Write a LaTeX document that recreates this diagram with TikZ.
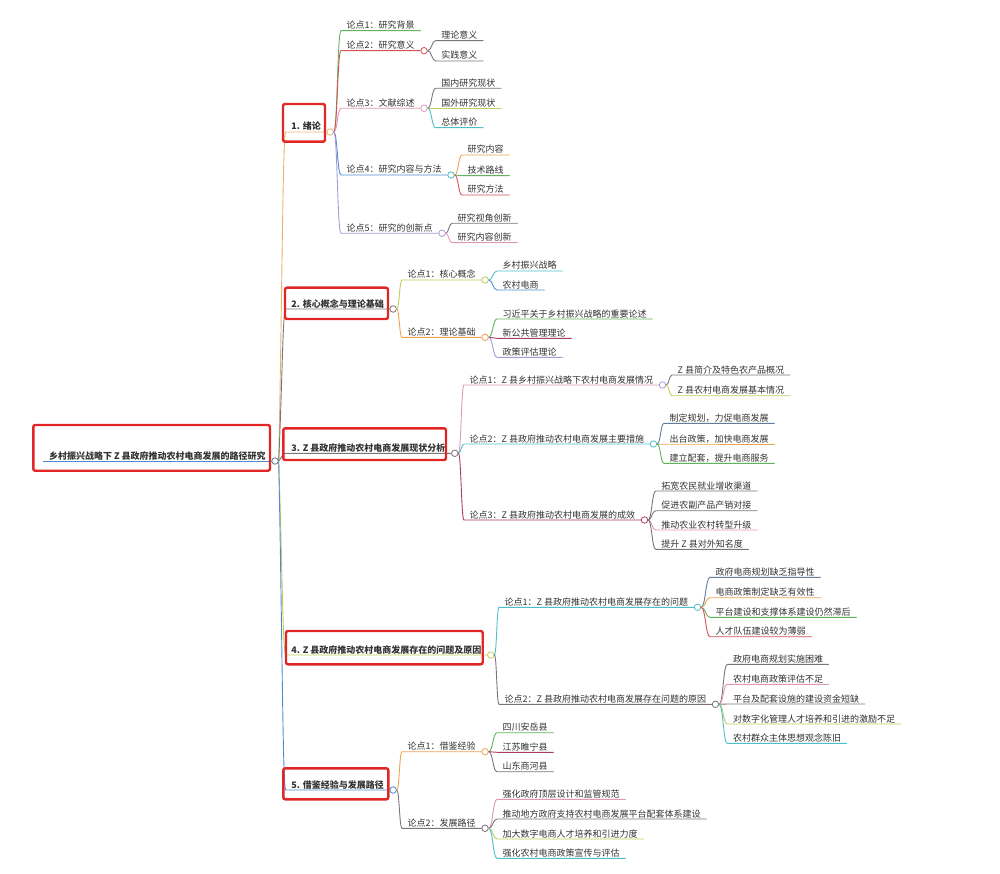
\documentclass[tikz,border=0pt]{standalone}
\usepackage{fontspec}
\setmainfont{Noto Sans CJK SC}
\usetikzlibrary{calc}

\definecolor{ink}{RGB}{50,50,50}
\definecolor{boxred}{RGB}{226,38,38}
\definecolor{cTan}{RGB}{232,180,110}
\definecolor{cOrange}{RGB}{236,163,80}
\definecolor{cGreen}{RGB}{95,180,90}
\definecolor{cRed}{RGB}{215,80,90}
\definecolor{cPink}{RGB}{225,150,185}
\definecolor{cBlue}{RGB}{80,140,210}
\definecolor{cPurple}{RGB}{165,155,215}
\definecolor{cGrey}{RGB}{125,115,125}
\definecolor{cOlive}{RGB}{195,205,85}
\definecolor{cTeal}{RGB}{80,190,200}
\definecolor{cMaroon}{RGB}{170,60,95}
\definecolor{cSlate}{RGB}{100,125,150}

\begin{document}
\begin{tikzpicture}[
    x=1pt, y=-1pt,
    font=\fontsize{9}{11}\selectfont,
    text=ink,
    topic/.style={anchor=south west, inner xsep=5.5pt, inner ysep=0.8pt,
                  text height=8pt, text depth=1pt},
    main/.style={topic, font=\fontsize{9}{11}\selectfont\bfseries},
    dot/.style={circle, draw, fill=white, line width=0.8pt,
                minimum size=6.5pt, inner sep=0pt, anchor=west},
    line/.style={line width=0.9pt, line cap=round},
    branch/.style={line, to path={let \p1=(\tikztostart), \p2=(\tikztotarget) in
        .. controls ({(\x1+\x2)/2},\y1) and ({(\x1+\x2)/2},\y2) .. (\p2)}},
    trunk/.style={line, to path={let \p1=(\tikztostart), \p2=(\tikztotarget) in
        .. controls ({(\x1+\x2)/2},{(\y1+\y2)/2}) and ({\x2-3pt},\y2) .. (\p2)}},
    hl/.style={draw=boxred, line width=2.4pt, rounded corners=2pt}
]
\useasboundingbox (0,0) rectangle (1000,874);

% ---- root ----
\node[main] (root) at (43.3,461)
  {乡村振兴战略下 Z 县政府推动农村电商发展的路径研究};
\draw[line, cBlue] (root.south west) -- (root.south east);
\node[dot, draw=cSlate] (d0) at (root.south east) {};

% ---- chapters ----
\foreach \id/\y/\c/\t in {m1/132/cTan/1. 绪论,
                         m2/309/cGrey/2. 核心概念与理论基础,
                         m3/453.3/cGrey/3. Z 县政府推动农村电商发展现状分析,
                         m4/655/cOlive/4. Z 县政府推动农村电商发展存在的问题及原因,
                         m5/790/cBlue/5. 借鉴经验与发展路径} {
  \node[main] (\id) at (285.7,\y) {\t};
  \draw[trunk, draw=\c] (d0.east) to (\id.south west) -- (\id.south east);
}
\node[dot, draw=cTan] (dm1) at (m1.south east) {};
\node[dot, draw=cGrey] (dm2) at (m2.south east) {};
\node[dot, draw=cGrey] (dm3) at (m3.south east) {};
\node[dot, draw=cOlive] (dm4) at (m4.south east) {};
\node[dot, draw=cBlue] (dm5) at (m5.south east) {};

% red frames
\draw[hl] (33.3,425) rectangle (270,470.7);
\draw[hl] (283,104) rectangle (325,141.7);
\draw[hl] (285,287.7) rectangle (388,319);
\draw[hl] (283.3,428.3) rectangle (446,460);
\draw[hl] (286,631) rectangle (482.7,664.3);
\draw[hl] (283.3,768.3) rectangle (388.3,799.3);

% ---- 1. 绪论 ----
\foreach \id/\y/\c/\t in {a1/30.7/cGreen/论点1：研究背景,
                         a2/50.7/cRed/论点2：研究意义,
                         a3/108.3/cPink/论点3：文献综述,
                         a4/175/cBlue/论点4：研究内容与方法,
                         a5/233.3/cPurple/论点5：研究的创新点} {
  \node[topic] (\id) at (341,\y) {\t};
  \draw[branch, draw=\c] (dm1.east) to (\id.south west) -- (\id.south east);
}
\node[dot, draw=cRed] (da2) at (a2.south east) {};
\node[dot, draw=cPink] (da3) at (a3.south east) {};
\node[dot, draw=cTeal] (da4) at (a4.south east) {};
\node[dot, draw=cPurple] (da5) at (a5.south east) {};

\foreach \id/\y/\c/\t in {b21/40.7/cGrey/理论意义, b22/61/cGrey/实践意义} {
  \node[topic] (\id) at (435.7,\y) {\t};
  \draw[branch, draw=\c] (da2.east) to (\id.south west) -- (\id.south east);
}
\foreach \id/\y/\c/\t in {b31/88.3/cGrey/国内研究现状, b32/108.3/cOlive/国外研究现状,
                         b33/127.7/cTeal/总体评价} {
  \node[topic] (\id) at (435.7,\y) {\t};
  \draw[branch, draw=\c] (da3.east) to (\id.south west) -- (\id.south east);
}
\foreach \id/\y/\c/\t in {b41/155/cOrange/研究内容, b42/175.7/cGreen/技术路线,
                         b43/195/cRed/研究方法} {
  \node[topic] (\id) at (462,\y) {\t};
  \draw[branch, draw=\c] (da4.east) to (\id.south west) -- (\id.south east);
}
\foreach \id/\y/\c/\t in {b51/223.3/cGrey/研究视角创新, b52/242.7/cPink/研究内容创新} {
  \node[topic] (\id) at (452,\y) {\t};
  \draw[branch, draw=\c] (da5.east) to (\id.south west) -- (\id.south east);
}

% ---- 2. 核心概念与理论基础 ----
\foreach \id/\y/\c/\t in {a6/280/cOlive/论点1：核心概念, a7/337.3/cOrange/论点2：理论基础} {
  \node[topic] (\id) at (402,\y) {\t};
  \draw[branch, draw=\c] (dm2.east) to (\id.south west) -- (\id.south east);
}
\node[dot, draw=cOlive] (da6) at (a6.south east) {};
\node[dot, draw=cOrange] (da7) at (a7.south east) {};

\foreach \id/\y/\c/\t in {b61/271/cTeal/乡村振兴战略, b62/290/cBlue/农村电商} {
  \node[topic] (\id) at (497,\y) {\t};
  \draw[branch, draw=\c] (da6.east) to (\id.south west) -- (\id.south east);
}
\foreach \id/\y/\c/\t in {b71/319/cGreen/习近平关于乡村振兴战略的重要论述,
                         b72/338.3/cMaroon/新公共管理理论,
                         b73/357.3/cPurple/政策评估理论} {
  \node[topic] (\id) at (497,\y) {\t};
  \draw[branch, draw=\c] (da7.east) to (\id.south west) -- (\id.south east);
}

% ---- 3. 现状分析 ----
\foreach \id/\y/\c/\t in {a8/385/cPink/论点1：Z 县乡村振兴战略下农村电商发展情况,
                         a9/444/cTeal/论点2：Z 县政府推动农村电商发展主要措施,
                         a10/520/cMaroon/论点3：Z 县政府推动农村电商发展的成效} {
  \node[topic] (\id) at (464,\y) {\t};
  \draw[branch, draw=\c] (dm3.east) to (\id.south west) -- (\id.south east);
}
\node[dot, draw=cPurple] (da8) at (a8.south east) {};
\node[dot, draw=cTeal] (da9) at (a9.south east) {};
\node[dot, draw=cMaroon] (da10) at (a10.south east) {};

\foreach \id/\y/\c/\t in {b81/375/cGrey/Z 县简介及特色农产品概况,
                         b82/395.7/cOlive/Z 县农村电商发展基本情况} {
  \node[topic] (\id) at (672,\y) {\t};
  \draw[branch, draw=\c] (da8.east) to (\id.south west) -- (\id.south east);
}
\foreach \id/\y/\c/\t in {b91/423.3/cSlate/制定规划，力促电商发展,
                         b92/444/cOrange/出台政策，加快电商发展,
                         b93/463.3/cGreen/建立配套，提升电商服务} {
  \node[topic] (\id) at (664,\y) {\t};
  \draw[branch, draw=\c] (da9.east) to (\id.south west) -- (\id.south east);
}
\foreach \id/\y/\c/\t in {b101/491/cGrey/拓宽农民就业增收渠道,
                         b102/510.7/cGrey/促进农副产品产销对接,
                         b103/530/cPink/推动农业农村转型升级,
                         b104/549.3/cGrey/提升 Z 县对外知名度} {
  \node[topic] (\id) at (655.7,\y) {\t};
  \draw[branch, draw=\c] (da10.east) to (\id.south west) -- (\id.south east);
}

% ---- 4. 问题及原因 ----
\foreach \id/\y/\c/\t in {a11/607.3/cTeal/论点1：Z 县政府推动农村电商发展存在的问题,
                         a12/704.3/cGrey/论点2：Z 县政府推动农村电商发展存在问题的原因} {
  \node[topic] (\id) at (499,\y) {\t};
  \draw[branch, draw=\c] (dm4.east) to (\id.south west) -- (\id.south east);
}
\node[dot, draw=cTeal] (da11) at (a11.south east) {};
\node[dot, draw=cGrey] (da12) at (a12.south east) {};

\foreach \id/\y/\c/\t in {b111/577.3/cSlate/政府电商规划缺乏指导性,
                         b112/597.7/cOrange/电商政策制定缺乏有效性,
                         b113/617.3/cGreen/平台建设和支撑体系建设仍然滞后,
                         b114/636.7/cRed/人才队伍建设较为薄弱} {
  \node[topic] (\id) at (710,\y) {\t};
  \draw[branch, draw=\c] (da11.east) to (\id.south west) -- (\id.south east);
}
\foreach \id/\y/\c/\t in {b121/664.3/cGrey/政府电商规划实施困难,
                         b122/684.3/cPink/农村电商政策评估不足,
                         b123/704/cGrey/平台及配套设施的建设资金短缺,
                         b124/724/cOlive/对数字化管理人才培养和引进的激励不足,
                         b125/743.3/cTeal/农村群众主体思想观念陈旧} {
  \node[topic] (\id) at (727.3,\y) {\t};
  \draw[branch, draw=\c] (da12.east) to (\id.south west) -- (\id.south east);
}

% ---- 5. 借鉴经验与发展路径 ----
\foreach \id/\y/\c/\t in {a13/751.7/cOrange/论点1：借鉴经验, a14/828.3/cGrey/论点2：发展路径} {
  \node[topic] (\id) at (402,\y) {\t};
  \draw[branch, draw=\c] (dm5.east) to (\id.south west) -- (\id.south east);
}
\node[dot, draw=cOrange] (da13) at (a13.south east) {};
\node[dot, draw=cGrey] (da14) at (a14.south east) {};

\foreach \id/\y/\c/\t in {b131/732.7/cGreen/四川安岳县, b132/752.3/cMaroon/江苏睢宁县,
                         b133/771.7/cGrey/山东商河县} {
  \node[topic] (\id) at (497,\y) {\t};
  \draw[branch, draw=\c] (da13.east) to (\id.south west) -- (\id.south east);
}
\foreach \id/\y/\c/\t in {b141/799.3/cPink/强化政府顶层设计和监管规范,
                         b142/819/cGrey/推动地方政府支持农村电商发展平台配套体系建设,
                         b143/839/cOlive/加大数字电商人才培养和引进力度,
                         b144/858.3/cTeal/强化农村电商政策宣传与评估} {
  \node[topic] (\id) at (497,\y) {\t};
  \draw[branch, draw=\c] (da14.east) to (\id.south west) -- (\id.south east);
}

\end{tikzpicture}
\end{document}
